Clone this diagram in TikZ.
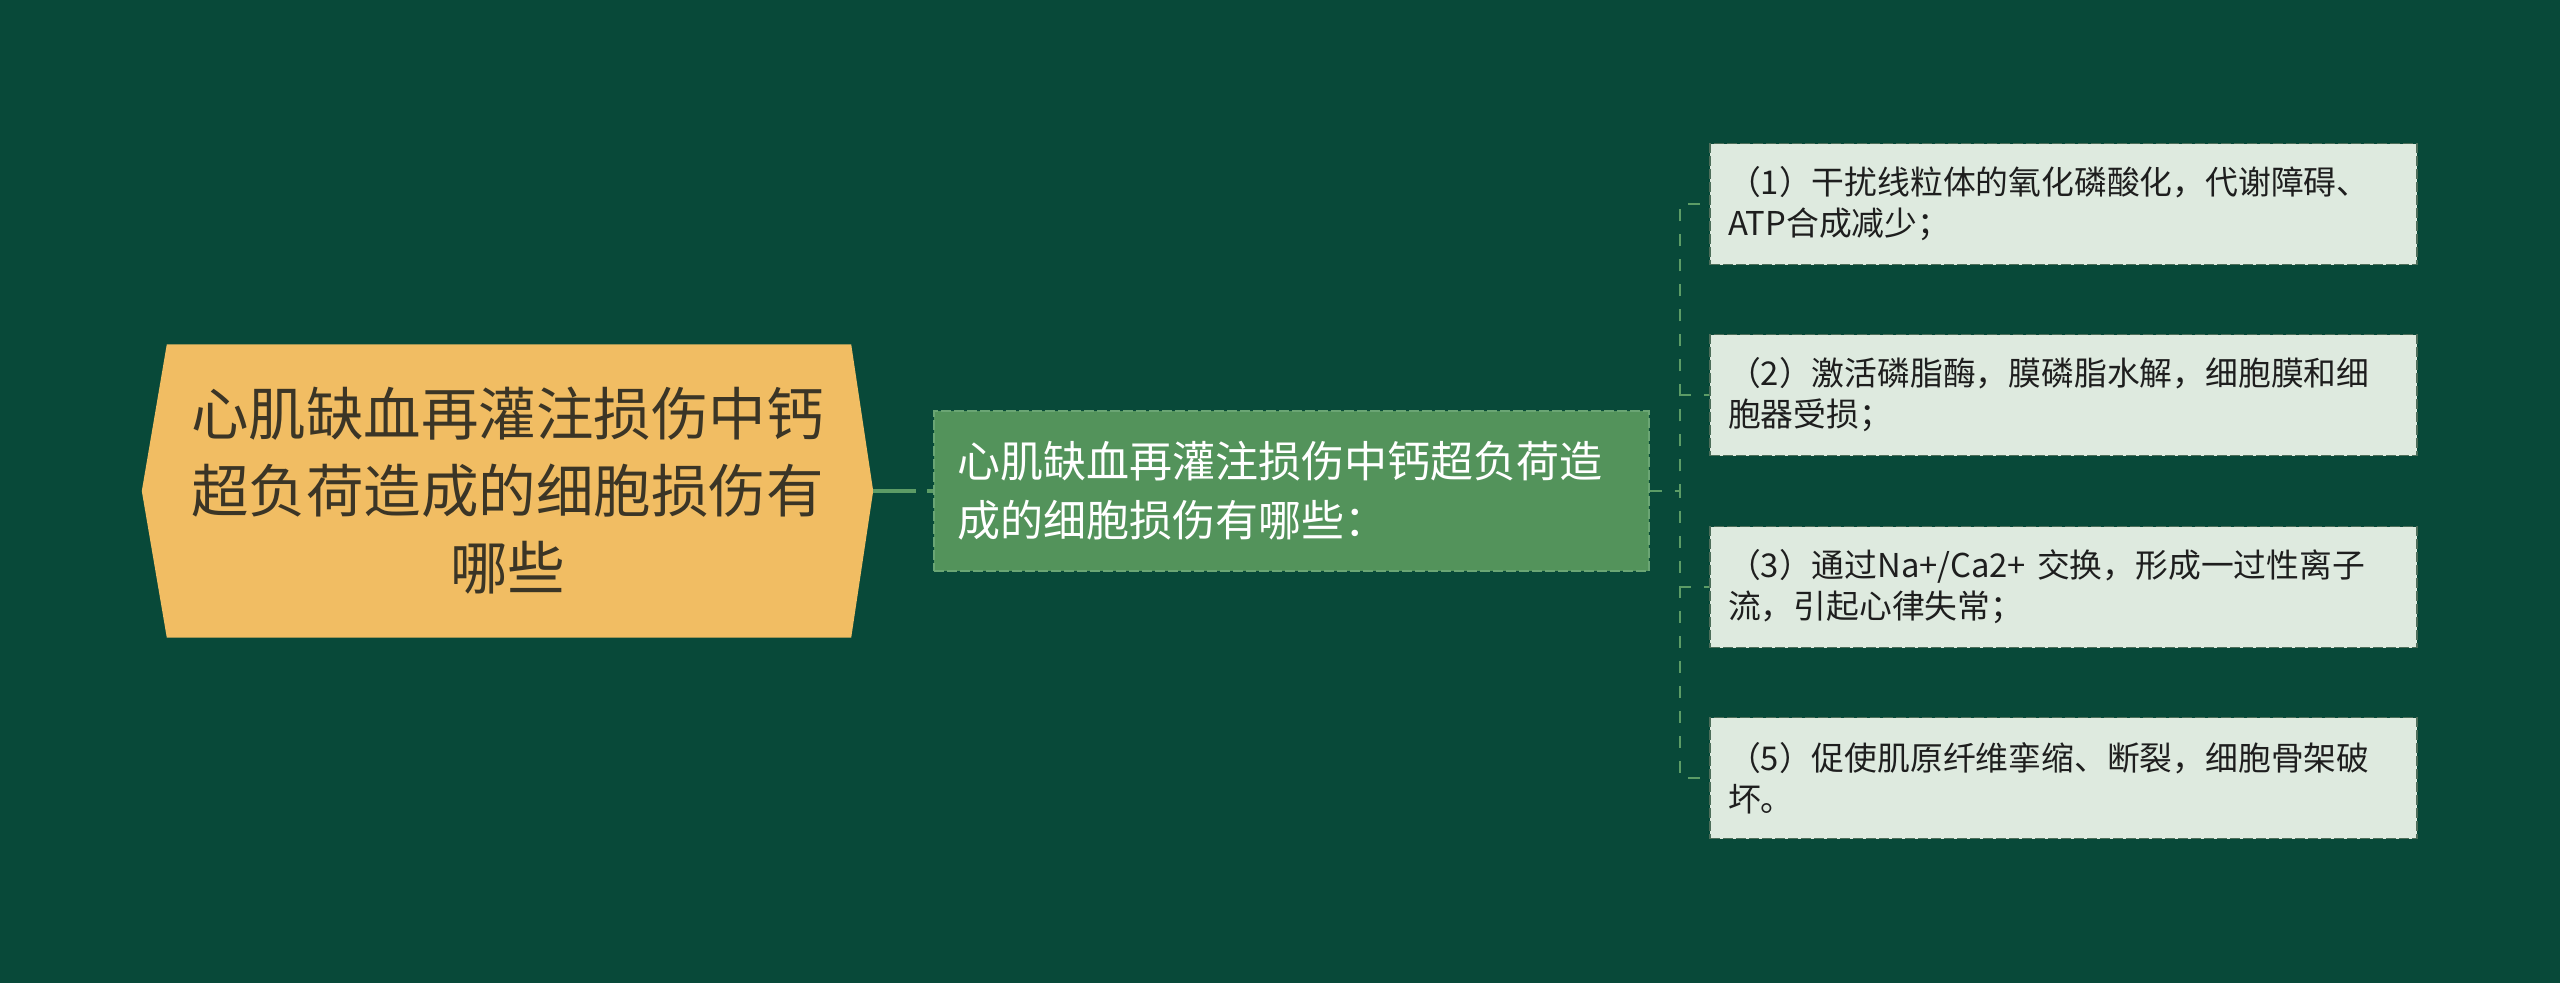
\documentclass[tikz,border=0pt]{standalone}
\usepackage{fontspec}
\setmainfont{Noto Sans CJK SC}
\begin{document}
\begin{tikzpicture}[x=1pt,y=-1pt,
  rootbox/.style={minimum width=731pt,minimum height=293pt,inner sep=0pt,align=center,
    text=rootink,font=\fontsize{57.5}{77}\selectfont},
  midbox/.style={draw=midline,fill=midfill,line width=1.5pt,dash pattern=on 10pt off 3pt,
    minimum width=715pt,minimum height=160pt,inner xsep=23pt,inner ysep=0pt,
    text width=669pt,align=left,text=white,font=\fontsize{43}{59}\selectfont},
  leafbox/.style={draw=leafline,fill=leaffill,line width=1.5pt,dash pattern=on 10pt off 3pt,
    minimum width=707pt,minimum height=121pt,inner xsep=18pt,inner ysep=0pt,
    text width=671pt,align=left,text=leafink,font=\fontsize{32.8}{41}\selectfont},
  thicklink/.style={draw=linkc,line width=4.5pt,dash pattern=on 43pt off 11pt},
  thinlink/.style={draw=linkc,line width=2.8pt,dash pattern=on 12pt off 13pt}]
\definecolor{bgc}{HTML}{084939}
\definecolor{rootfill}{HTML}{F1BD63}
\definecolor{rootink}{HTML}{3B3526}
\definecolor{midfill}{HTML}{53935B}
\definecolor{midline}{HTML}{6AA574}
\definecolor{leaffill}{HTML}{DEEADF}
\definecolor{leafline}{HTML}{4D6E5A}
\definecolor{leafink}{HTML}{1E1E1E}
\definecolor{linkc}{HTML}{5C9C66}
\fill[bgc] (0,0) rectangle (2560,983);
\useasboundingbox (0,0) rectangle (2560,983);
% root
\node[rootbox] (root) at (507.5,491) {};
\fill[rootfill] (root.west) -- ([xshift=25pt]root.north west) -- ([xshift=-22pt]root.north east)
  -- (root.east) -- ([xshift=-22pt]root.south east) -- ([xshift=25pt]root.south west) -- cycle;
\node[rootbox] (roottext) at (507.5,491) {心肌缺血再灌注损伤中钙\\超负荷造成的细胞损伤有\\哪些};
% middle
\node[midbox] (mid) at (1291.5,491) {心肌缺血再灌注损伤中钙超负荷造\\成的细胞损伤有哪些：};
\draw[thicklink] (root.east) -- (mid.west);
% leaves
\node[leafbox] (c1) at (2063.5,204) {（1）干扰线粒体的氧化磷酸化，代谢障碍、\\ATP合成减少；};
\node[leafbox] (c2) at (2063.5,395) {（2）激活磷脂酶，膜磷脂水解，细胞膜和细\\胞器受损；};
\node[leafbox] (c3) at (2063.5,587) {（3）通过Na+/Ca2+ 交换，形成一过性离子\\流，引起心律失常；};
\node[leafbox] (c4) at (2063.5,778) {（5）促使肌原纤维挛缩、断裂，细胞骨架破\\坏。};
\coordinate (hub) at (1680,491);
\foreach \c in {c1,c2,c3,c4}{
  \draw[thinlink] (mid.east) -- (hub) |- (\c.west);
}
\end{tikzpicture}
\end{document}
